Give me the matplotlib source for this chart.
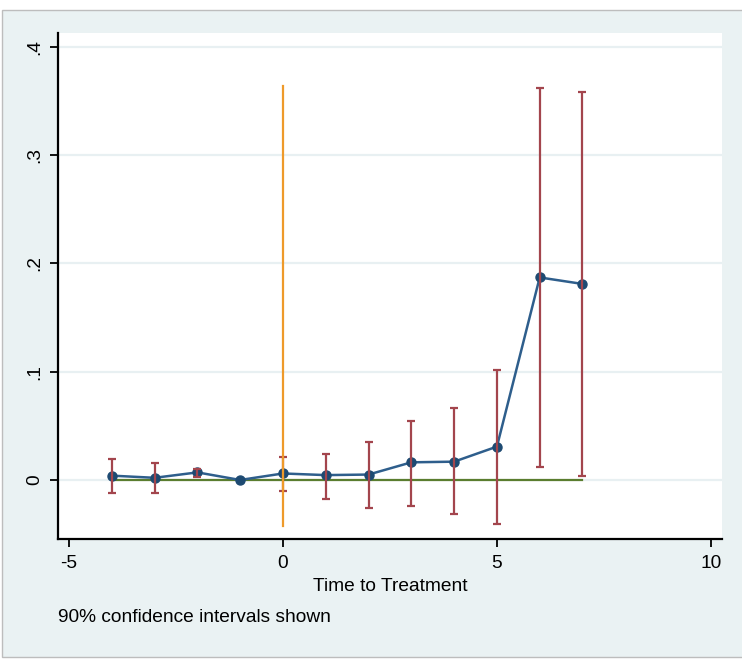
import numpy as np
import matplotlib
matplotlib.use("Agg")
import matplotlib.pyplot as plt
from matplotlib import font_manager as fm
from matplotlib.patches import Rectangle

# ---- data ----
periods = [-4, -3, -2, -1, 0, 1, 2, 3, 4, 5, 6, 7]
coef = [0.004, 0.002, 0.007, 0.0, 0.006, 0.0045, 0.005, 0.0163, 0.0169, 0.0308, 0.187, 0.181]
ci_lo = [-0.0117, -0.0117, 0.003, np.nan, -0.0099, -0.0178, -0.0261, -0.0237, -0.0314, -0.041, 0.0117, 0.0037]
ci_hi = [0.019, 0.016, 0.0099, np.nan, 0.0215, 0.0237, 0.0348, 0.0548, 0.0665, 0.1016, 0.362, 0.358]
treat_x = 0
treat_span = [-0.0425, 0.3638]
zero_span = [-4, 7]
xticks = [-5, 0, 5, 10]
xticklabels = ["-5", "0", "5", "10"]
yticks = [0, 0.1, 0.2, 0.3, 0.4]
yticklabels = ["0", ".1", ".2", ".3", ".4"]
xlabel = "Time to Treatment"
note = "90% confidence intervals shown"

# ---- font ----
names = {f.name for f in fm.fontManager.ttflist}
if "Liberation Sans Narrow" in names:
    fam, fs = "Liberation Sans Narrow", 16
else:
    fam, fs = "Liberation Sans", 13.8
plt.rcParams["font.family"] = [fam, "DejaVu Sans"]

W, H = 742, 663
fig = plt.figure(figsize=(W / 100, H / 100), dpi=100, facecolor="white")

# graph region background
bg = Rectangle((2 / W, 1 - 657 / H), (W + 5 - 2) / W, (657 - 10) / H,
               transform=fig.transFigure, facecolor="#EAF2F3",
               edgecolor="#BDBDBD", linewidth=1.0, zorder=-10)
fig.patches.append(bg)

ax = fig.add_axes([58.3 / W, 1 - 539 / H, (722 - 58.3) / W, (539 - 33) / H])
ax.set_zorder(5)
ax.set_facecolor("white")
ax.set_xlim(-5.25, 10.26)
ax.set_ylim(-0.0545, 0.4127)

for s in ["top", "right"]:
    ax.spines[s].set_visible(False)
for s in ["left", "bottom"]:
    ax.spines[s].set_color("black")
    ax.spines[s].set_linewidth(1.6)

ax.set_yticks(yticks)
ax.set_yticklabels(yticklabels, rotation=90, va="center", fontsize=fs)
ax.set_xticks(xticks)
ax.set_xticklabels(xticklabels, fontsize=fs)
ax.tick_params(axis="both", direction="out", length=6, width=1.3, color="black")
ax.tick_params(axis="x", pad=5.5)
ax.tick_params(axis="y", pad=5)
ax.yaxis.grid(True, color="#E8F0F2", linewidth=1.6)
ax.set_axisbelow(True)

# zero line
ax.plot(zero_span, [0, 0], color="#5A7D2F", linewidth=1.6, zorder=2)
# coefficients
ax.plot(periods, coef, color="#2E5E8C", linewidth=1.8, marker="o",
        markersize=6.5, markerfacecolor="#1D4A72", markeredgecolor="#1D4A72", zorder=3)
# confidence intervals
c = np.array(coef)
lo = np.array(ci_lo)
hi = np.array(ci_hi)
ax.errorbar(periods, c, yerr=[c - lo, hi - c], fmt="none", ecolor="#A3454D",
            elinewidth=1.6, capsize=2.8, capthick=1.6, zorder=4)
# treatment line
ax.plot([treat_x, treat_x], treat_span, color="#EE9A2A", linewidth=1.6, zorder=5)

fig.text(390 / W, 1 - 591 / H, xlabel, ha="center", va="baseline", fontsize=fs)
fig.text(58 / W, 1 - 622 / H, note, ha="left", va="baseline", fontsize=fs)

fig.savefig("out.png", dpi=100, facecolor="white")
